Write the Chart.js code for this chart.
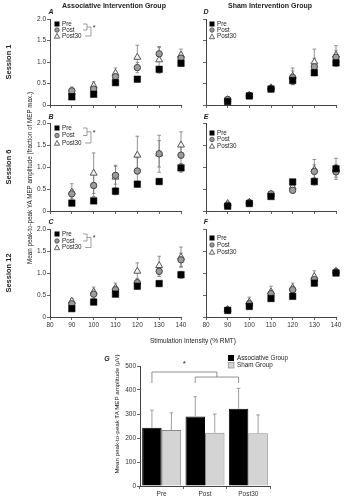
<!DOCTYPE html>
<html>
<head>
<meta charset="utf-8">
<script src="https://cdn.jsdelivr.net/npm/chart.js@4.4.0/dist/chart.umd.min.js"></script>
<style>
body { margin: 0; background: #fff; }
#wrap { position: relative; width: 345px; height: 500px; overflow: hidden; background: #fff; }
#wrap canvas { position: absolute; }
#ov { position: absolute; left: 0; top: 0; pointer-events: none; }
#ov text { font-family: "Liberation Sans", Arial, sans-serif; fill: #222; }
</style>
</head>
<body>
<div id="wrap">
  <canvas id="pA"></canvas>
  <canvas id="pB"></canvas>
  <canvas id="pC"></canvas>
  <canvas id="pD"></canvas>
  <canvas id="pE"></canvas>
  <canvas id="pF"></canvas>
  <canvas id="pG"></canvas>
  <svg id="ov" width="345" height="500"></svg>
</div>
<script>
// stimulation intensities (% RMT)
const intensities = [90, 100, 110, 120, 130, 140];

// Associative group, session 1
const preA = [0.19, 0.25, 0.52, 0.60, 0.83, 0.97];
const postA = [0.33, 0.37, 0.66, 0.87, 1.19, 1.09];
const post30A = [0.30, 0.45, 0.74, 1.11, 1.05, 1.16];
const preErrA = [0.03, 0.04, 0.05, 0.05, 0.06, 0.06];
const postErrA = [0.06, 0.07, 0.10, 0.12, 0.15, 0.12];
const post30ErrA = [0.12, 0.09, 0.12, 0.28, 0.31, 0.14];

// Associative group, session 6
const preB = [0.18, 0.23, 0.45, 0.61, 0.67, 0.98];
const postB = [0.39, 0.58, 0.81, 0.91, 1.30, 1.27];
const post30B = [0.43, 0.86, 0.77, 1.27, 1.30, 1.50];
const preErrB = [0.03, 0.04, 0.08, 0.06, 0.06, 0.10];
const postErrB = [0.10, 0.25, 0.20, 0.30, 0.30, 0.20];
const post30ErrB = [0.19, 0.46, 0.27, 0.43, 0.42, 0.30];

// Associative group, session 12
const preC = [0.19, 0.34, 0.52, 0.70, 0.76, 0.96];
const postC = [0.30, 0.52, 0.62, 0.78, 1.04, 1.30];
const post30C = [0.36, 0.57, 0.66, 1.04, 1.17, 1.36];
const preErrC = [0.03, 0.05, 0.05, 0.06, 0.06, 0.08];
const postErrC = [0.05, 0.10, 0.08, 0.10, 0.12, 0.15];
const post30ErrC = [0.06, 0.11, 0.11, 0.19, 0.21, 0.23];

// Sham group, session 1
const preD = [0.08, 0.21, 0.37, 0.57, 0.75, 0.98];
const postD = [0.13, 0.22, 0.38, 0.64, 0.89, 1.11];
const post30D = [0.12, 0.23, 0.40, 0.67, 1.00, 1.16];
const preErrD = [0.02, 0.03, 0.04, 0.10, 0.06, 0.08];
const postErrD = [0.03, 0.03, 0.04, 0.15, 0.20, 0.15];
const post30ErrD = [0.03, 0.03, 0.05, 0.19, 0.30, 0.22];

// Sham group, session 6
const preE = [0.11, 0.17, 0.33, 0.66, 0.67, 0.96];
const postE = [0.13, 0.19, 0.39, 0.47, 0.90, 0.89];
const post30E = [0.17, 0.20, 0.37, 0.55, 0.94, 0.96];
const preErrE = [0.03, 0.03, 0.04, 0.05, 0.08, 0.10];
const postErrE = [0.04, 0.04, 0.04, 0.06, 0.15, 0.12];
const post30ErrE = [0.05, 0.04, 0.04, 0.08, 0.23, 0.24];

// Sham group, session 12
const preF = [0.15, 0.24, 0.42, 0.47, 0.77, 1.00];
const postF = [0.16, 0.30, 0.53, 0.62, 0.85, 1.02];
const post30F = [0.17, 0.34, 0.57, 0.66, 0.92, 1.04];
const preErrF = [0.02, 0.04, 0.05, 0.04, 0.06, 0.06];
const postErrF = [0.03, 0.06, 0.08, 0.08, 0.10, 0.08];
const post30ErrF = [0.03, 0.11, 0.13, 0.11, 0.13, 0.06];

// panel G: mean peak-to-peak MEP (uV)
const timeLabels = ['Pre', 'Post', 'Post30'];
const assocMean = [243, 290, 322];
const shamMean = [233, 222, 220];
const assocErr = [73, 82, 85];
const shamErr = [72, 78, 76];

const FONT = '"Liberation Sans", Arial, sans-serif';
const tickFont = { family: FONT, size: 6.5 };

// vertical error bars drawn through the chart's own scales
const errorBars = {
    id: 'errorBars',
    beforeDatasetsDraw(chart) {
        if (chart.config.type !== 'scatter') return;
        drawErrors(chart, false);
    },
    afterDatasetsDraw(chart) {
        if (chart.config.type !== 'bar') return;
        drawErrors(chart, true);
    }
};

function drawErrors(chart, upperOnly) {
    const ctx = chart.ctx;
    const yScale = chart.scales.y;
    ctx.save();
    chart.data.datasets.forEach((ds, i) => {
        if (!ds.errors) return;
        const meta = chart.getDatasetMeta(i);
        meta.data.forEach((el, j) => {
            const v = upperOnly ? ds.data[j] : ds.data[j].y;
            const e = ds.errors[j];
            const yTop = yScale.getPixelForValue(v + e);
            const yBot = upperOnly ? yScale.getPixelForValue(v) : yScale.getPixelForValue(v - e);
            ctx.strokeStyle = ds.errorColor || '#777';
            ctx.lineWidth = 0.8;
            ctx.beginPath();
            ctx.moveTo(el.x, yTop);
            ctx.lineTo(el.x, yBot);
            ctx.moveTo(el.x - 1.8, yTop);
            ctx.lineTo(el.x + 1.8, yTop);
            if (!upperOnly) {
                ctx.moveTo(el.x - 1.8, yBot);
                ctx.lineTo(el.x + 1.8, yBot);
            }
            ctx.stroke();
        });
    });
    ctx.restore();
}

// significance bracket for panel G
const sigBracket = {
    id: 'sigBracket',
    afterDraw(chart) {
        const ctx = chart.ctx;
        const y = chart.scales.y;
        const bars = chart.getDatasetMeta(0).data;
        const xPre = bars[0].x, xPost = bars[1].x, xPost30 = bars[2].x;
        const xMid = (xPost + xPost30) / 2;
        const yTop = y.getPixelForValue(475);
        const ySecond = y.getPixelForValue(454);
        const yDrop = y.getPixelForValue(429);
        ctx.save();
        ctx.strokeStyle = '#777';
        ctx.lineWidth = 0.8;
        ctx.beginPath();
        ctx.moveTo(xPre, yDrop);
        ctx.lineTo(xPre, yTop);
        ctx.lineTo(xMid, yTop);
        ctx.lineTo(xMid, ySecond);
        ctx.moveTo(xPost, yDrop);
        ctx.lineTo(xPost, ySecond);
        ctx.lineTo(xPost30, ySecond);
        ctx.lineTo(xPost30, yDrop);
        ctx.stroke();
        ctx.fillStyle = '#222';
        ctx.font = '8px ' + FONT;
        ctx.textAlign = 'center';
        ctx.textBaseline = 'middle';
        ctx.fillText('*', (xPre + xMid) / 2, y.getPixelForValue(508));
        ctx.restore();
    }
};

function points(vals) {
    return intensities.map((x, i) => ({ x: x, y: vals[i] }));
}

function drawPanel(id, area, showX, showY, pre, post, post30, preErr, postErr, post30Err) {
    const yw = showY ? 30 : 8;
    const xh = 14;
    const padTop = 6, padRight = 8, padBottom = 2;
    const cv = document.getElementById(id);
    cv.width = area.right - area.left + yw + padRight;
    cv.height = area.bottom - area.top + padTop + xh + padBottom;
    cv.style.left = (area.left - yw) + 'px';
    cv.style.top = (area.top - padTop) + 'px';

    new Chart(cv, {
        type: 'scatter',
        data: {
            datasets: [
                { label: 'Pre', data: points(pre), errors: preErr, pointStyle: 'rect', pointRadius: 4.6,
                  backgroundColor: '#000', borderColor: '#000', borderWidth: 0.5, clip: false },
                { label: 'Post', data: points(post), errors: postErr, pointStyle: 'circle', pointRadius: 3.2,
                  backgroundColor: '#9c9c9c', borderColor: '#444', borderWidth: 1, clip: false },
                { label: 'Post30', data: points(post30), errors: post30Err, pointStyle: 'triangle', pointRadius: 4,
                  backgroundColor: '#f4f4f4', borderColor: '#555', borderWidth: 1, clip: false }
            ]
        },
        options: {
            animation: false,
            responsive: false,
            events: [],
            layout: { padding: { top: padTop, right: padRight, bottom: padBottom, left: 0 } },
            plugins: { legend: { display: false }, tooltip: { enabled: false } },
            scales: {
                x: {
                    type: 'linear', min: 80, max: 140,
                    ticks: { stepSize: 10, display: showX, font: tickFont, color: '#333', padding: 1 },
                    grid: { drawOnChartArea: false, tickLength: 3, color: '#666' },
                    border: { color: '#444' },
                    afterFit: s => { s.height = xh; s.paddingLeft = 0; s.paddingRight = 0; }
                },
                y: {
                    min: 0, max: 2,
                    ticks: { stepSize: 0.5, display: showY, font: tickFont, color: '#333', padding: 1 },
                    grid: { drawOnChartArea: false, tickLength: 3, color: '#666' },
                    border: { color: '#444' },
                    afterFit: s => { s.width = yw; s.paddingTop = 0; s.paddingBottom = 0; }
                }
            }
        },
        plugins: [errorBars]
    });
}

drawPanel('pA', { left: 50, right: 181, top: 19, bottom: 105 }, false, true, preA, postA, post30A, preErrA, postErrA, post30ErrA);
drawPanel('pB', { left: 50, right: 181, top: 123, bottom: 211 }, false, true, preB, postB, post30B, preErrB, postErrB, post30ErrB);
drawPanel('pC', { left: 50, right: 181, top: 229, bottom: 317 }, true, true, preC, postC, post30C, preErrC, postErrC, post30ErrC);
drawPanel('pD', { left: 206, right: 336, top: 19, bottom: 105 }, false, false, preD, postD, post30D, preErrD, postErrD, post30ErrD);
drawPanel('pE', { left: 206, right: 336, top: 123, bottom: 211 }, false, false, preE, postE, post30E, preErrE, postErrE, post30ErrE);
drawPanel('pF', { left: 206, right: 336, top: 229, bottom: 317 }, true, false, preF, postF, post30F, preErrF, postErrF, post30ErrF);

// panel G bar chart
const gArea = { left: 140, right: 270, top: 366, bottom: 486 };
const gCv = document.getElementById('pG');
gCv.width = gArea.right - gArea.left + 22 + 8;
gCv.height = gArea.bottom - gArea.top + 12 + 14 + 2;
gCv.style.left = (gArea.left - 22) + 'px';
gCv.style.top = (gArea.top - 12) + 'px';

new Chart(gCv, {
    type: 'bar',
    data: {
        labels: timeLabels,
        datasets: [
            { label: 'Associative Group', data: assocMean, errors: assocErr, errorColor: '#888',
              backgroundColor: '#000', borderColor: '#000', borderWidth: 1,
              categoryPercentage: 0.9, barPercentage: 1.0 },
            { label: 'Sham Group', data: shamMean, errors: shamErr, errorColor: '#888',
              backgroundColor: '#d4d4d4', borderColor: '#8a8a8a', borderWidth: 1,
              categoryPercentage: 0.9, barPercentage: 1.0 }
        ]
    },
    options: {
        animation: false,
        responsive: false,
        events: [],
        layout: { padding: { top: 12, right: 8, bottom: 2, left: 0 } },
        plugins: { legend: { display: false }, tooltip: { enabled: false } },
        scales: {
            x: {
                ticks: { font: tickFont, color: '#333', padding: 1 },
                grid: { drawOnChartArea: false, tickLength: 3, color: '#666', offset: true },
                border: { color: '#444' },
                afterFit: s => { s.height = 14; s.paddingLeft = 0; s.paddingRight = 0; }
            },
            y: {
                min: 0, max: 500,
                ticks: { stepSize: 100, font: tickFont, color: '#333', padding: 1 },
                grid: { drawOnChartArea: false, tickLength: 3, color: '#666' },
                border: { color: '#444' },
                afterFit: s => { s.width = 22; s.paddingTop = 0; s.paddingBottom = 0; }
            }
        }
    },
    plugins: [errorBars, sigBracket]
});

// text, legends and brackets as an svg overlay
const ov = document.getElementById('ov');
const NS = 'http://www.w3.org/2000/svg';
function el(tag, attrs, txt) {
    const e = document.createElementNS(NS, tag);
    for (const k in attrs) e.setAttribute(k, attrs[k]);
    if (txt !== undefined) e.textContent = txt;
    ov.appendChild(e);
    return e;
}
function label(x, y, txt, size, opts) {
    opts = opts || {};
    const a = { x: x, y: y, 'font-size': size, 'text-anchor': opts.anchor || 'middle', 'dominant-baseline': 'middle' };
    if (opts.bold) a['font-weight'] = 'bold';
    if (opts.italic) a['font-style'] = 'italic';
    if (opts.rotate) a.transform = 'rotate(-90 ' + x + ' ' + y + ')';
    return el('text', a, txt);
}

label(114, 6, 'Associative Intervention Group', 7, { bold: true });
label(270, 6, 'Sham Intervention Group', 7, { bold: true });
label(9, 62, 'Session 1', 7.5, { bold: true, rotate: true });
label(9, 167, 'Session 6', 7.5, { bold: true, rotate: true });
label(9, 273, 'Session 12', 7.5, { bold: true, rotate: true });
label(30, 178, 'Mean peak-to-peak YA MEP amplitude (fraction of MEP max.)', 6.3, { rotate: true });
label(193, 341, 'Stimulation Intensity (% RMT)', 6.5);
label(117, 414, 'Mean peak-to-peak TA MEP amplitude (µV)', 6.2, { rotate: true });

[['A', 51, 12], ['D', 206, 12], ['B', 51, 117], ['E', 206, 117], ['C', 51, 222], ['F', 206, 222], ['G', 107, 359]]
    .forEach(p => label(p[1], p[2], p[0], 7, { bold: true, italic: true }));

const legendNames = ['Pre', 'Post', 'Post30'];
function legend(mx, rows, bracket) {
    rows.forEach((ry, i) => {
        if (i === 0) el('rect', { x: mx - 2.5, y: ry - 2.5, width: 5, height: 5, fill: '#000' });
        if (i === 1) el('circle', { cx: mx, cy: ry, r: 2.2, fill: '#9c9c9c', stroke: '#444', 'stroke-width': 0.8 });
        if (i === 2) el('polygon', { points: (mx - 2.6) + ',' + (ry + 2.2) + ' ' + (mx + 2.6) + ',' + (ry + 2.2) + ' ' + mx + ',' + (ry - 2.6),
            fill: '#f4f4f4', stroke: '#444', 'stroke-width': 0.8 });
        label(mx + 5, ry + 0.3, legendNames[i], 6.3, { anchor: 'start' });
    });
    if (bracket) {
        const mid = (rows[0] + rows[1]) / 2;
        const path = 'M' + (mx + 26) + ' ' + rows[0] + ' H' + (mx + 30) + ' V' + rows[1] + ' H' + (mx + 26) +
            ' M' + (mx + 30) + ' ' + mid + ' H' + (mx + 34) + ' V' + rows[2] + ' H' + (mx + 28);
        el('path', { d: path, fill: 'none', stroke: '#777', 'stroke-width': 0.7 });
        label(mx + 37, mid + 1, '*', 7);
    }
}
legend(57, [24, 30, 36], true);
legend(57, [128, 135.5, 143], true);
legend(57, [234, 241, 247.5], true);
legend(212, [24, 30, 36.5], false);
legend(212, [133, 139.5, 146], false);
legend(212, [238, 245, 252], false);

// legend for panel G
el('rect', { x: 228, y: 355, width: 6, height: 6, fill: '#000' });
el('rect', { x: 228.5, y: 362.5, width: 5.5, height: 5.5, fill: '#d4d4d4', stroke: '#8a8a8a', 'stroke-width': 0.7 });
label(237, 358.3, 'Associative Group', 6.3, { anchor: 'start' });
label(237, 365.5, 'Sham Group', 6.3, { anchor: 'start' });
</script>
</body>
</html>
